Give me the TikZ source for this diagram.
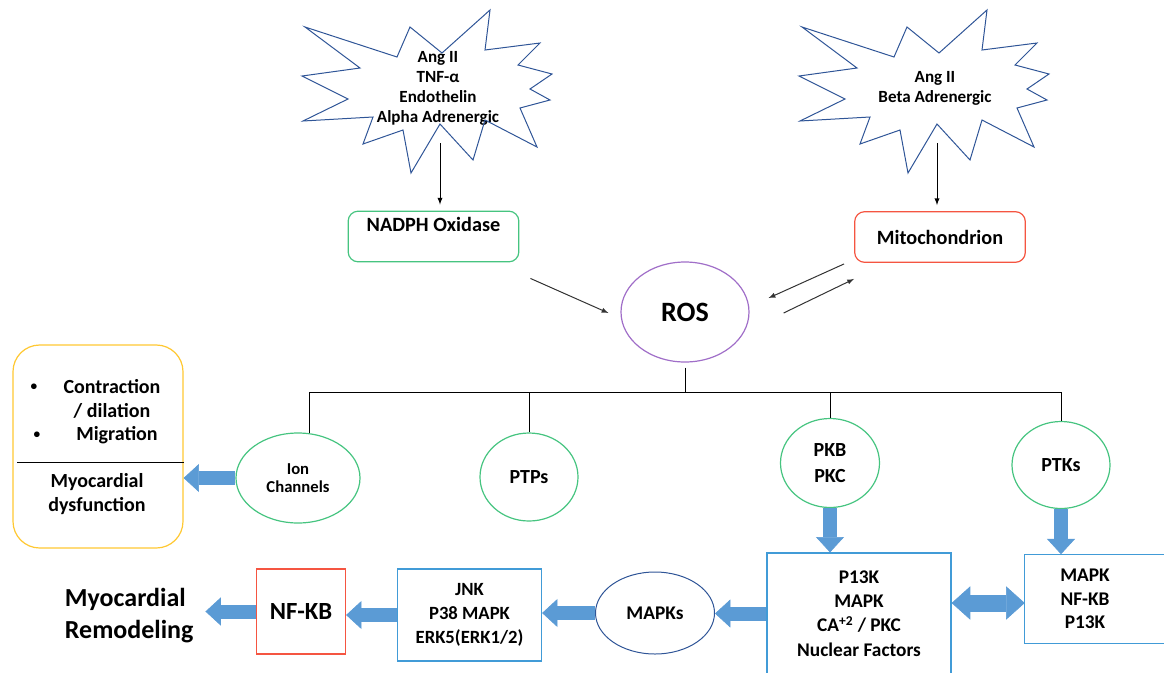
\documentclass[tikz,border=0pt]{standalone}
\usepackage{fontspec}
\setmainfont{Carlito}
\usetikzlibrary{arrows.meta,calc,shapes.geometric}
\tikzset{>=latex}

\definecolor{burstblue}{RGB}{47,85,151}
\definecolor{ovalgreen}{RGB}{70,196,128}
\definecolor{boxred}{RGB}{245,85,65}
\definecolor{rospurple}{RGB}{160,110,200}
\definecolor{effyellow}{RGB}{255,200,50}
\definecolor{boxblue}{RGB}{65,155,215}
\definecolor{fatblue}{RGB}{91,155,213}

\newcommand{\fs}[2]{\fontsize{#1}{#2}\selectfont\bfseries}

\tikzset{
  burst/.pic={
    \draw[burstblue,line width=0.75pt] (-30,-61) -- (2,-35) -- (50,-78) -- (45,-38)
      -- (100,-45) -- (78,-23) -- (112,-14) -- (90,1) -- (110,12) -- (80,20)
      -- (97,59) -- (45,32) -- (33,72) -- (0,36) -- (-29,85) -- (-37,42)
      -- (-77,56) -- (-67,29) -- (-137,33) -- (-92,11) -- (-138,-12) -- (-80,-20)
      -- (-135,-61) -- (-43,-31) -- cycle;
  },
  bursttext/.style={align=center,font=\fs{12.8pt}{15pt}},
  roundbox/.style={draw,rounded corners=7.5pt,line width=0.9pt,minimum width=128pt,
    minimum height=38pt,align=center,font=\fs{15.2pt}{18pt}},
  oval/.style={ellipse,draw=ovalgreen,line width=0.9pt,align=center,inner sep=0pt,
    font=\fs{15pt}{19.5pt}},
  bluebox/.style={draw=boxblue,line width=0.9pt,align=center,font=\fs{14.5pt}{18.3pt}},
  fat/.style={draw=fatblue,line width=10.5pt,
    -{Triangle[length=11.5pt,width=21pt,line width=0.5pt]}},
  fatboth/.style={draw=fatblue,line width=12.75pt,
    {Triangle[length=14pt,width=25pt,line width=0.5pt]}-{Triangle[length=14pt,width=25pt,line width=0.5pt]}},
}

\begin{document}
\begin{tikzpicture}[x=0.75pt,y=-0.75pt]
\useasboundingbox (0,0) rectangle (1164,672);
\clip (0,0) rectangle (1164,672);

% stimuli
\node [bursttext] (b1) at (438,88) {Ang II\\TNF-α\\Endothelin\\Alpha Adrenergic};
\pic at ($(b1)+(2,0)$) {burst};
\node [bursttext] (b2) at (935,88) {Ang II\\Beta Adrenergic};
\pic at ($(b2)+(2,0)$) {burst};

\node [roundbox,draw=ovalgreen] (nadph) at (433.5,236.5) {NADPH Oxidase\\\mbox{}};
\node [roundbox,draw=boxred] (mito) at (940,237) {Mitochondrion};
\node [ellipse,draw=rospurple,line width=0.9pt,minimum width=96pt,minimum height=75pt,
  font=\fs{21pt}{25pt}] (ros) at (685,312) {ROS};

% targets of ROS
\node [oval,minimum width=93pt,minimum height=67.5pt,font=\fs{12.5pt}{14pt}] (ion) at (298,478) {Ion\\Channels};
\node [oval,minimum width=73.5pt,minimum height=66pt] (ptps) at (529,477) {PTPs};
\node [oval,minimum width=74.25pt,minimum height=66.75pt] (pkb) at (830,463) {PKB\\PKC};
\node [oval,minimum width=73.5pt,minimum height=65.25pt] (ptks) at (1061,465) {PTKs};

% effects box
\node [draw=effyellow,rounded corners=20pt,line width=0.9pt,minimum width=127.5pt,
  minimum height=152.25pt] (eff) at (98,446.5) {};
\node [align=center,font=\fs{15pt}{18pt}] (contr) at (112,399) {Contraction\\/ dilation};
\node [font=\fs{15pt}{18pt}] (migr) at (117,435) {Migration};
\node [font=\fs{10pt}{12pt}] (dot1) at (34,387) {\textbullet};
\node [font=\fs{10pt}{12pt}] (dot2) at (37,435) {\textbullet};
\node [align=center,font=\fs{15pt}{18pt}] (dysf) at (97,494) {Myocardial\\dysfunction};

% lower row
\node [bluebox,minimum width=138pt,minimum height=90.75pt] (p13k) at (859,613.5)
  {P13K\\MAPK\\CA\textsuperscript{+2} / PKC\\Nuclear Factors};
\node [align=center,minimum width=90pt,minimum height=66.75pt,font=\fs{14.5pt}{17.8pt}] (mapkbox) at (1085,599)
  {MAPK\\NF-KB\\P13K};
\node [ellipse,draw=burstblue,line width=0.75pt,minimum width=89.25pt,minimum height=61.5pt,
  font=\fs{14.5pt}{18pt}] (mapks) at (655,613) {MAPKs};
\node [bluebox,minimum width=108pt,minimum height=69pt,font=\fs{14pt}{18pt}] (jnk) at (469.5,615)
  {JNK\\P38 MAPK\\ERK5(ERK1/2)};
\node [draw=boxred,line width=0.9pt,minimum width=66.75pt,minimum height=63.75pt,
  font=\fs{18.5pt}{22pt}] (nfkb) at (301,611.5) {NF-KB};
\node [anchor=west,align=left,inner sep=2pt,font=\fs{19.5pt}{24pt}] (remodel) at (62,615.5)
  {Myocardial\\Remodeling};

\begin{scope}[line width=0.75pt]
\coordinate (s1) at ($(b1)+(2,55)$);
\coordinate (s2) at ($(b2)+(2,55)$);
\draw[->,color=black,shorten >=4.5pt] (s1) to (s1 |- nadph.north);
\draw[->,color=black,shorten >=4.5pt] (s2) to (s2 |- mito.north);
\draw[->,color=black!80] ($(nadph.south east)+(11,16)$) to ($(ros.west)+(-12,1)$);
\draw[->,color=black!80] ($(mito.south west)+(-10,1)$) to ($(ros.east)+(19,-14)$);
\draw[->,color=black!80] ($(ros.east)+(34,1)$) to ($(mito.south west)+(0,16)$);

\coordinate (bus) at ($(ros.south)+(0,30)$);
\draw[color=black] ($(ros.south)+(0,5)$) to (bus);
\draw[color=black] (ion.75) |- (bus) -| (ptks.north);
\draw[color=black] (ptps.north) to (ptps.north |- bus);
\draw[color=black] (pkb.north) to (pkb.north |- bus);
\draw[color=black] ($(eff.west)+(5,15.5)$) to ($(eff.east)+(0,15.5)$);
\end{scope}

\draw[boxblue,line width=0.9pt] (mapkbox.south west) rectangle ($(mapkbox.north east)+(60,0)$);

% block arrows
\coordinate (dbl) at ($(p13k.east)+(0,-10.5)$);
\draw[fat] (ion.west) -- (ion.west -| eff.east);
\draw[fat] (pkb.south) -- (pkb.south |- p13k.north);
\draw[fat] (ptks.south) -- (ptks.south |- mapkbox.north);
\draw[fatboth] (dbl) -- (dbl -| mapkbox.west);
\draw[fat] (p13k.west) -- (p13k.west -| mapks.east);
\draw[fat] (mapks.west) -- (mapks.west -| jnk.east);
\draw[fat] (jnk.west) -- (jnk.west -| nfkb.east);
\draw[fat,shorten >=6.75pt] (nfkb.west) -- (nfkb.west -| remodel.east);

\end{tikzpicture}
\end{document}
